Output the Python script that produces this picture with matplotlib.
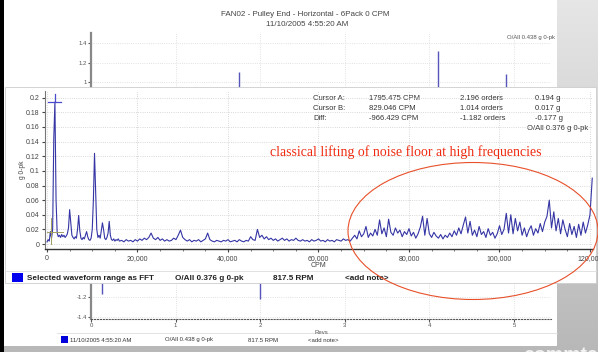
import numpy as np
import matplotlib
matplotlib.use("Agg")
import matplotlib.pyplot as plt
from matplotlib.patches import Rectangle, Ellipse

W, H = 598, 352

# front spectrum (FFT), values in milli-g
low_step = 250
low_vals = [3, 6, 4, 17, 8, 20, 145, 194, 60, 15, 10, 12, 9, 13, 10, 12, 9, 11, 14, 22,
            47, 30, 12, 9, 7, 10, 8, 20, 39, 18, 8, 6, 9, 7, 12, 17, 10, 6, 5, 8,
            20, 60, 124, 70, 20, 9, 12, 8, 18, 29, 20, 8, 6, 9, 15, 31, 12, 6, 5, 7,
            4, 6, 5, 7, 4]
high_step = 500
high_vals = [5, 3, 6, 4, 5, 3, 6, 4, 7, 5, 8, 6, 9, 15, 8, 6, 9, 5, 7, 4,
             6, 4, 5, 8, 6, 12, 19, 9, 6, 4, 6, 3, 5, 4, 6, 3, 5, 7, 15, 6,
             4, 3, 5, 4, 3, 5, 4, 6, 3, 4, 5, 3, 6, 4, 3, 5, 4, 10, 6, 5,
             20, 9, 12, 7, 10, 6, 8, 5, 7, 4, 6, 8, 5, 7, 4, 6, 5, 8, 5, 4,
             6, 4, 5, 3, 6, 4, 5, 7, 4, 5, 3, 6, 4, 5, 3, 6, 5, 4, 7, 5,
             6, 4, 8, 12, 7, 18, 10, 14, 24, 9, 15, 11, 20, 12, 33, 14, 22, 10, 34, 16,
             12, 22, 15, 19, 10, 17, 13, 21, 11, 16, 8, 14, 23, 38, 12, 35, 14, 9, 16, 11,
             8, 13, 7, 12, 9, 15, 10, 18, 12, 22, 14, 26, 37, 15, 31, 12, 19, 10, 24, 13,
             17, 9, 21, 12, 16, 8, 14, 25, 13, 20, 42, 15, 40, 14, 35, 18, 30, 12, 22, 10,
             19, 25, 12, 21, 15, 28, 17, 30, 38, 60, 22, 44, 18, 35, 14, 33, 20, 10, 28, 13,
             24, 9, 27, 12, 30, 15, 26, 40, 90]

cpm = np.concatenate([np.arange(len(low_vals)) * low_step,
                      16000 + high_step * (1 + np.arange(len(high_vals)))])
amp = np.array(low_vals + high_vals) / 1000.0

f_yticks = [0, 0.02, 0.04, 0.06, 0.08, 0.1, 0.12, 0.14, 0.16, 0.18, 0.2]
f_ylabels = ["0", "0.02", "0.04", "0.06", "0.08", "0.1", "0.12", "0.14", "0.16", "0.18", "0.2"]
f_xticks = [0, 20000, 40000, 60000, 80000, 100000, 120000]
f_xlabels = ["0", "20,000", "40,000", "60,000", "80,000", "100,000", "120,000"]

cursor_rows = [["Cursor A:", "1795.475 CPM", "2.196 orders", "0.194 g"],
               ["Cursor B:", "829.046 CPM", "1.014 orders", "0.017 g"],
               ["Diff:", "-966.429 CPM", "-1.182 orders", "-0.177 g"]]

# back waveform: spike tips visible around the front window
wave_revs = [0.13, 1.745, 2.0, 4.10, 4.90]
wave_vals = [-1.16, 1.10, -1.22, 1.32, 1.08]
b_yticks = [-1.4, -1.2, 1.0, 1.2, 1.4]
b_ylabels = ["-1.4", "-1.2", "1", "1.2", "1.4"]

UI = "Liberation Sans"


def frac(x0, y0, x1, y1):
    return [x0 / W, 1 - y1 / H, (x1 - x0) / W, (y1 - y0) / H]


def pixel_axes(z):
    a = fig.add_axes([0, 0, 1, 1], zorder=z)
    a.set_xlim(0, W)
    a.set_ylim(H, 0)
    a.axis("off")
    a.patch.set_alpha(0)
    return a


fig = plt.figure(figsize=(W / 100, H / 100), dpi=100)

# slide background
bg = pixel_axes(0)
grad = np.linspace(0, 1, 200)[:, None] * np.ones((1, 50))
bg.imshow(grad, cmap=matplotlib.colors.LinearSegmentedColormap.from_list("g", ["#e6e6e6", "#b8b8b8"]),
          extent=(0, W, H, 0), aspect="auto", zorder=0)
bg.add_patch(Rectangle((4, 0), 553, 346, facecolor="white", edgecolor="none", zorder=1))
bg.add_patch(Rectangle((0, 0), 4, H, facecolor="black", edgecolor="none", zorder=2))
bg.text(305, 15, "FAN02 - Pulley End - Horizontal - 6Pack 0 CPM", ha="center", va="center",
        fontsize=5.8, color="#444444", family=UI, zorder=3)
bg.text(307, 24, "11/10/2005 4:55:20 AM", ha="center", va="center",
        fontsize=5.8, color="#444444", family=UI, zorder=3)
bg.text(555, 37, "O/All 0.438 g 0-pk", ha="right", va="center", fontsize=4.3, color="#555555",
        family=UI, zorder=3)
bg.plot([57, 557], [333, 333], color="#dddddd", lw=0.6, zorder=3)
bg.add_patch(Rectangle((61, 336), 7, 7, facecolor="#0000dd", edgecolor="none", zorder=3))
for x, s in [(70, "11/10/2005 4:55:20 AM"), (165, "O/All 0.438 g 0-pk"),
             (248, "817.5 RPM"), (308, "<add note>")]:
    bg.text(x, 340, s, ha="left", va="center", fontsize=4.3, color="#333333", family=UI, zorder=3)
bg.text(523, 355, "commtest", ha="left", va="center", fontsize=14, fontweight="bold",
        color="#f2f2f2", family=UI, zorder=3)

# back waveform axes
axb = fig.add_axes(frac(91, 33, 551, 319), zorder=1)
axb.patch.set_alpha(0)
axb.vlines(wave_revs, 0, wave_vals, color="#5555bb", lw=1.0)
axb.set_xlim(0, 5.437)
axb.set_ylim(-1.42, 1.502)
axb.set_yticks(b_yticks)
axb.set_yticklabels(b_ylabels)
axb.set_xticks(range(6))
axb.tick_params(labelsize=4.3, colors="#555555", length=2, pad=1)
for lab in axb.get_xticklabels() + axb.get_yticklabels():
    lab.set_family(UI)
axb.grid(True, color="#d8d8d8", ls=":", lw=0.6)
for s in ["top", "right"]:
    axb.spines[s].set_visible(False)
axb.spines["left"].set_color("#888888")
axb.spines["left"].set_linewidth(1.6)
axb.spines["bottom"].set_color("#555555")
axb.spines["bottom"].set_linestyle(":")
axb.set_xlabel("Revs", fontsize=4.3, color="#555555", family=UI, labelpad=1)

# front window panel
fp = pixel_axes(2)
fp.add_patch(Rectangle((5, 87), 591, 196, facecolor="white", edgecolor="#cccccc", lw=0.6))
fp.plot([5, 596], [271, 271], color="#dddddd", lw=0.6)
fp.add_patch(Rectangle((12, 273), 11, 9, facecolor="#0000ee", edgecolor="none"))
for x, s in [(27, "Selected waveform range as FFT"), (175, "O/All 0.376 g 0-pk"),
             (273, "817.5 RPM"), (345, "<add note>")]:
    fp.text(x, 278, s, ha="left", va="center", fontsize=5.9, fontweight="bold", color="#222222", family=UI)
fp.text(22, 170, "g 0-pk", rotation=90, ha="center", va="center", fontsize=4.8, color="#444444", family=UI)
col_x = [313, 369, 460, 535]
for r, row in enumerate(cursor_rows):
    for cx, s in zip(col_x, row):
        fp.text(cx, 98 + 10 * r, s, ha="left", va="center", fontsize=5.5, color="#333333", family=UI)
fp.text(588, 129, "O/All 0.376 g 0-pk", ha="right", va="center", fontsize=5.5, color="#333333", family=UI)

# front spectrum axes
axf = fig.add_axes(frac(45, 91, 593, 249), zorder=3)
axf.patch.set_alpha(0)
axf.plot(cpm, amp, color="#3535a5", lw=0.8)
axf.plot([150, 3030], [0.194, 0.194], color="#4a4acc", lw=0.9)
axf.plot([1795, 1795], [0.194, 0.205], color="#4a4acc", lw=0.9)
axf.plot([829, 829], [0, 0.035], color="#a0a060", lw=0.7)
axf.plot([0, 3500], [0.017, 0.017], color="#a0a060", lw=0.7)
axf.set_xlim(-442, 120666)
axf.set_ylim(-0.0068, 0.2092)
axf.set_yticks(f_yticks)
axf.set_yticklabels(f_ylabels)
axf.set_xticks(f_xticks)
axf.set_xticklabels(f_xlabels)
axf.set_xticks(np.arange(0, 120001, 5000), minor=True)
axf.tick_params(labelsize=5, colors="#444444", length=2, pad=2)
axf.tick_params(which="minor", length=1.5, colors="#666666")
for lab in axf.get_xticklabels() + axf.get_yticklabels():
    lab.set_family(UI)
axf.grid(True, color="#cccccc", ls=":", lw=0.6)
for s in ["top", "right"]:
    axf.spines[s].set_visible(False)
axf.spines["left"].set_color("#777777")
axf.spines["left"].set_linewidth(0.8)
axf.spines["bottom"].set_color("#333333")
axf.spines["bottom"].set_linewidth(1.0)
axf.set_xlabel("CPM", fontsize=5, color="#444444", family=UI, labelpad=0)

# annotation overlay
ov = pixel_axes(4)
ov.text(270, 152, "classical lifting of noise floor at high frequencies", ha="left", va="center",
        fontsize=9.9, color="#ee2a10", family="Liberation Serif")
ov.add_patch(Ellipse((473, 231), 250, 137, fill=False, edgecolor="#e8502a", lw=0.8))

fig.savefig("out.png", dpi=100)
